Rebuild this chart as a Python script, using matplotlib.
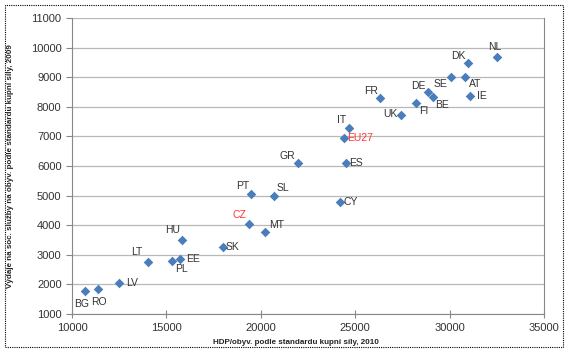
import matplotlib
matplotlib.use("Agg")
from matplotlib import pyplot as plt
from matplotlib.patches import Rectangle

# data
countries = ["BG", "RO", "LV", "LT", "PL", "EE", "HU", "SK", "CZ", "PT", "SL", "MT",
             "CY", "GR", "ES", "EU27", "IT", "FR", "UK", "FI", "DE", "BE", "SE", "AT",
             "DK", "IE", "NL"]
gdp = [10700, 11400, 12500, 14000, 15300, 15700, 15800, 18000, 19400, 19500, 20700, 20200,
       24200, 21950, 24500, 24400, 24650, 26300, 27400, 28200, 28850, 29100, 30100, 30800,
       31000, 31100, 32500]
spend = [1780, 1860, 2050, 2750, 2800, 2870, 3500, 3250, 4050, 5060, 5000, 3780,
         4800, 6100, 6100, 6950, 7280, 8300, 7720, 8130, 8500, 8330, 9000, 9000,
         9480, 8360, 9690]
xticks = [10000, 15000, 20000, 25000, 30000, 35000]
yticks = [1000, 2000, 3000, 4000, 5000, 6000, 7000, 8000, 9000, 10000, 11000]

# label offsets in pixels (dx, dy, ha, va)
offsets = {
    "BG": (-4, -8, "center", "top"), "RO": (1, -8, "center", "top"),
    "LV": (7, 0, "left", "center"), "LT": (-5, 5, "right", "bottom"),
    "PL": (3, -3, "left", "top"), "EE": (7, 0, "left", "center"),
    "HU": (-2, 5, "right", "bottom"), "SK": (3, 0, "left", "center"),
    "CZ": (-3, 4, "right", "bottom"), "PT": (-2, 3, "right", "bottom"),
    "SL": (3, 3, "left", "bottom"), "MT": (5, 2, "left", "bottom"),
    "CY": (3, 0, "left", "center"), "GR": (-2, 2, "right", "bottom"),
    "ES": (3, 0, "left", "center"), "EU27": (3, 0, "left", "center"),
    "IT": (-2, 3, "right", "bottom"), "FR": (-2, 2, "right", "bottom"),
    "UK": (-3, 1, "right", "center"), "FI": (4, -3, "left", "top"),
    "DE": (-2, 1, "right", "bottom"), "BE": (3, -3, "left", "top"),
    "SE": (-4, -2, "right", "top"), "AT": (4, -2, "left", "top"),
    "DK": (-3, 2, "right", "bottom"), "IE": (7, 0, "left", "center"),
    "NL": (-2, 5, "center", "bottom"),
}
red = ["CZ", "EU27"]

fig = plt.figure(figsize=(5.72, 3.55), dpi=100)
ax = fig.add_axes([72 / 572, 41 / 355, 472 / 572, 296 / 355])

ax.scatter(gdp, spend, marker="D", s=24, color="#4a7ebb", zorder=3, linewidths=0)

for c, x, y in zip(countries, gdp, spend):
    dx, dy, ha, va = offsets[c]
    ax.annotate(c, (x, y), xytext=(dx, dy), textcoords="offset pixels",
                ha=ha, va=va, fontsize=7.5, family="Liberation Sans",
                color="#ff3333" if c in red else "#333333", zorder=4)

ax.set_xlim(10000, 35000)
ax.set_ylim(1000, 11000)
ax.set_xticks(xticks)
ax.set_yticks(yticks)
ax.grid(axis="y", color="#b8b8b8", linewidth=0.9)
ax.set_axisbelow(True)
for side in ["left", "bottom", "right"]:
    ax.spines[side].set_color("#888888")
ax.spines["top"].set_visible(False)
ax.tick_params(axis="both", colors="#888888", labelcolor="#333333", labelsize=8)
ax.tick_params(axis="y", direction="out", length=4)
ax.tick_params(axis="x", direction="inout", length=6)
for lab in ax.get_xticklabels() + ax.get_yticklabels():
    lab.set_family("Liberation Sans")

fig.text(296 / 572, 1 - 342 / 355, "HDP/obyv. podle standardu kupní síly, 2010",
         ha="center", va="center", fontsize=5.8, fontweight="bold", family="Liberation Sans",
         color="#222222")
fig.text(11 / 572, 1 - 166 / 355, "Výdaje na soc. služby na obyv. podle standardu kupní síly, 2009",
         ha="center", va="center", rotation=90, fontsize=5.8, fontweight="bold",
         family="Liberation Sans", color="#222222")

# outer chart frame
fig.patches.append(Rectangle((5 / 572, 8 / 355), 558 / 572, 342 / 355,
                             transform=fig.transFigure, fill=False,
                             edgecolor="black", linewidth=0.8, linestyle=(0, (1, 1))))

fig.savefig("out.png", dpi=100)
